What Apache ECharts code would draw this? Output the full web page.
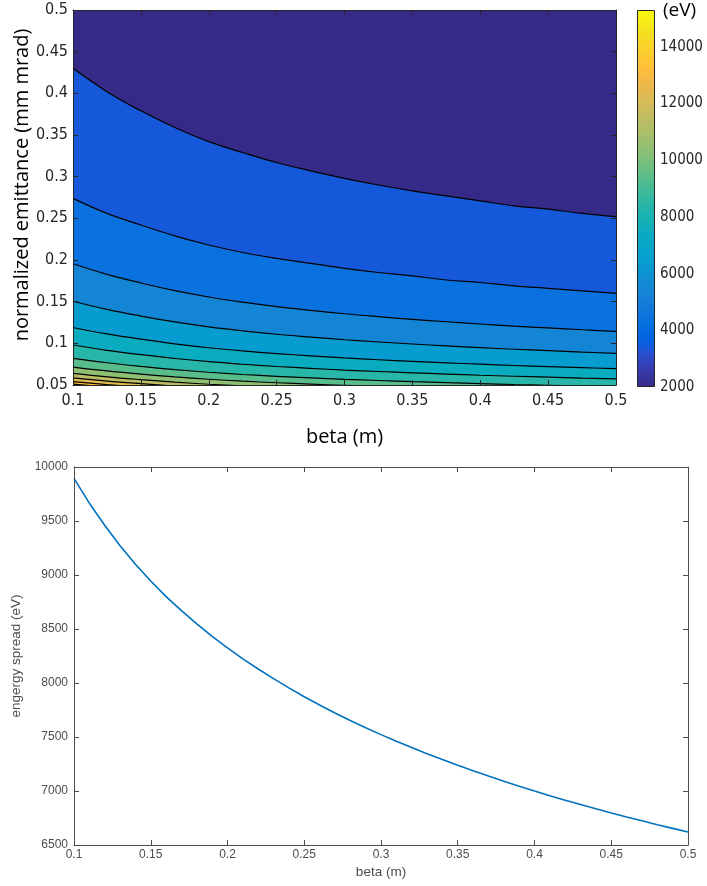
<!DOCTYPE html>
<html><head><meta charset="utf-8">
<script src="https://cdn.jsdelivr.net/npm/echarts@6/dist/echarts.min.js"></script>
<style>html,body{margin:0;padding:0;background:#fff}#c{width:707px;height:886px}</style>
</head><body><div id="c"></div>
<script>
// ---------- data: contour plot ----------
const betaGrid = [0.1, 0.125, 0.15, 0.175, 0.2, 0.225, 0.25, 0.275, 0.3, 0.325, 0.35, 0.375, 0.4, 0.425, 0.45, 0.475, 0.5];
const levelsEV = [3000, 4000, 5000, 6000, 7000, 8000, 9000, 10000, 11000, 12000, 13000, 14000];
const eps3000  = [0.430, 0.402, 0.379, 0.359, 0.342, 0.329, 0.317, 0.307, 0.298, 0.290, 0.283, 0.277, 0.271, 0.265, 0.261, 0.256, 0.252];
const eps4000  = [0.274, 0.256, 0.242, 0.229, 0.218, 0.209, 0.202, 0.196, 0.190, 0.185, 0.181, 0.176, 0.173, 0.169, 0.166, 0.163, 0.160];
const eps5000  = [0.1955, 0.1828, 0.1724, 0.1632, 0.1556, 0.1494, 0.1441, 0.1396, 0.1355, 0.1320, 0.1288, 0.1259, 0.1232, 0.1206, 0.1185, 0.1163, 0.1144];
const eps6000  = [0.1505, 0.1407, 0.1327, 0.1257, 0.1198, 0.1150, 0.1109, 0.1075, 0.1043, 0.1016, 0.0992, 0.0969, 0.0948, 0.0929, 0.0912, 0.0895, 0.0880];
const eps7000  = [0.119, 0.1113, 0.1050, 0.0994, 0.0947, 0.0909, 0.0877, 0.0850, 0.0825, 0.0803, 0.0784, 0.0766, 0.0750, 0.0734, 0.0721, 0.0708, 0.0696];
const eps8000  = [0.098, 0.0916, 0.0864, 0.0818, 0.0780, 0.0749, 0.0722, 0.0700, 0.0679, 0.0662, 0.0646, 0.0631, 0.0617, 0.0605, 0.0594, 0.0583, 0.0573];
const eps9000  = [0.082, 0.0767, 0.0723, 0.0685, 0.0653, 0.0626, 0.0604, 0.0585, 0.0568, 0.0554, 0.0540, 0.0528, 0.0517, 0.0506, 0.0497, 0.0488, 0.0480];
const eps10000 = [0.0715, 0.0669, 0.0631, 0.0597, 0.0569, 0.0546, 0.0527, 0.0511, 0.0496, 0.0483];
const eps11000 = [0.064, 0.0598, 0.0564, 0.0534, 0.0509, 0.0489, 0.0472];
const eps12000 = [0.0585, 0.0547, 0.0516, 0.0488, 0.0466];
const eps13000 = [0.054, 0.0505, 0.0476, 0.0451];
const eps14000 = [0.051, 0.0477, 0.045];
const contourLines = [eps3000, eps4000, eps5000, eps6000, eps7000, eps8000, eps9000, eps10000, eps11000, eps12000, eps13000, eps14000];
const colorbarMin = 2000, colorbarMax = 15300;

// ---------- data: energy spread line ----------
const betaLine = [0.10,0.11,0.12,0.13,0.14,0.15,0.16,0.17,0.18,0.19,0.20,0.21,0.22,0.23,0.24,0.25,0.26,0.27,0.28,0.29,0.30,
                  0.31,0.32,0.33,0.34,0.35,0.36,0.37,0.38,0.39,0.40,0.41,0.42,0.43,0.44,0.45,0.46,0.47,0.48,0.49,0.50];
const energySpread = [9895,9665,9460,9270,9100,8945,8800,8670,8548,8432,8325,8224,8130,8040,7955,7873,7796,7723,7653,7586,7522,
                      7461,7402,7345,7291,7238,7187,7138,7091,7045,7000,6957,6915,6875,6835,6797,6760,6724,6688,6654,6620];

// ---------- style: parula colormap ----------
const parula = [[0.2081,0.1663,0.5292],[0.2116,0.1898,0.5777],[0.2123,0.2138,0.6270],[0.2081,0.2386,0.6771],[0.1959,0.2645,0.7279],[0.1707,0.2919,0.7792],[0.1253,0.3242,0.8303],[0.0591,0.3598,0.8683],[0.0117,0.3875,0.8820],[0.0060,0.4086,0.8828],[0.0165,0.4266,0.8786],[0.0329,0.4430,0.8720],[0.0498,0.4586,0.8641],[0.0629,0.4737,0.8554],[0.0723,0.4887,0.8467],[0.0779,0.5040,0.8384],[0.0793,0.5200,0.8312],[0.0749,0.5375,0.8263],[0.0641,0.5570,0.8240],[0.0488,0.5772,0.8228],[0.0343,0.5966,0.8199],[0.0265,0.6137,0.8135],[0.0239,0.6287,0.8038],[0.0231,0.6418,0.7913],[0.0228,0.6535,0.7768],[0.0267,0.6642,0.7607],[0.0384,0.6743,0.7436],[0.0590,0.6838,0.7254],[0.0843,0.6928,0.7062],[0.1133,0.7015,0.6859],[0.1453,0.7098,0.6646],[0.1801,0.7177,0.6424],[0.2178,0.7250,0.6193],[0.2586,0.7317,0.5954],[0.3022,0.7376,0.5712],[0.3482,0.7424,0.5473],[0.3953,0.7459,0.5244],[0.4420,0.7481,0.5033],[0.4871,0.7491,0.4840],[0.5300,0.7491,0.4661],[0.5709,0.7485,0.4494],[0.6099,0.7473,0.4337],[0.6473,0.7456,0.4188],[0.6834,0.7435,0.4044],[0.7184,0.7411,0.3905],[0.7525,0.7384,0.3768],[0.7858,0.7356,0.3633],[0.8185,0.7327,0.3498],[0.8507,0.7299,0.3360],[0.8824,0.7274,0.3217],[0.9139,0.7258,0.3063],[0.9450,0.7261,0.2886],[0.9739,0.7314,0.2666],[0.9938,0.7455,0.2403],[0.9990,0.7653,0.2164],[0.9955,0.7861,0.1967],[0.9880,0.8066,0.1794],[0.9789,0.8271,0.1633],[0.9697,0.8481,0.1475],[0.9626,0.8705,0.1309],[0.9589,0.8949,0.1132],[0.9598,0.9218,0.0948],[0.9661,0.9514,0.0755],[0.9763,0.9831,0.0538]];
function rgb(c){return 'rgb('+c.map(v=>Math.round(v*255)).join(',')+')';}
function parulaAt(v){
  let f=(v-colorbarMin)/(colorbarMax-colorbarMin); f=Math.max(0,Math.min(1,f));
  const p=f*63, i=Math.min(62,Math.floor(p)), t=p-i;
  return rgb(parula[i].map((a,j)=>a+(parula[i+1][j]-a)*t));
}
const plain = v => String(Math.round(v));

const axisCol = '#262626';
const narrow = "'Liberation Sans Narrow','DejaVu Sans Condensed',sans-serif";
const tickCfg = {inside:true, length:5, lineStyle:{color:axisCol}};

const series = [];
contourLines.forEach((eps,k)=>{
  const hi = k+1<levelsEV.length ? levelsEV[k+1] : colorbarMax;
  series.push({
    type:'line', name:levelsEV[k]+' eV', xAxisIndex:0, yAxisIndex:0,
    data: eps.map((e,i)=>[betaGrid[i], e]),
    smooth:0.4, symbol:'none', silent:true, clip:true,
    lineStyle:{color:'#000', width:1.2},
    areaStyle:{color:parulaAt(levelsEV[k]+0.4*(hi-levelsEV[k])), opacity:1, origin:'start'}
  });
});
// colorbar
series.push({type:'bar', xAxisIndex:2, yAxisIndex:2, stack:'cb', data:[colorbarMin], itemStyle:{color:'transparent'}, barWidth:'100%', silent:true});
series.push({type:'bar', xAxisIndex:2, yAxisIndex:2, stack:'cb', data:[colorbarMax-colorbarMin], barWidth:'100%', silent:true,
  itemStyle:{borderColor:axisCol, borderWidth:1,
    color:{type:'linear', x:0, y:1, x2:0, y2:0, colorStops: parula.map((c,i)=>({offset:i/63, color:rgb(c)}))}}});
// energy spread line
series.push({type:'line', xAxisIndex:3, yAxisIndex:3, data: betaLine.map((b,i)=>[b, energySpread[i]]),
  symbol:'none', lineStyle:{color:'#0072BD', width:1.6}, silent:true});

const botCol = '#4d4d4d';
const botTick = {inside:true, length:5, lineStyle:{color:botCol}};
const option = {
  animation:false,
  grid:[
    {left:73, top:10, width:543, height:375, show:true, backgroundColor:parulaAt(colorbarMin), borderWidth:0},
    {left:637, top:10, width:18, height:377},
    {left:74, top:467, width:614, height:378}
  ],
  xAxis:[
    {gridIndex:0, type:'value', min:0.1, max:0.5, interval:0.05, position:'bottom', z:10,
      axisLine:{lineStyle:{color:axisCol}}, axisTick:tickCfg, splitLine:{show:false},
      axisLabel:{color:axisCol, fontSize:16, fontFamily:narrow, margin:8},
      name:'beta (m)', nameLocation:'middle', nameGap:42, nameTextStyle:{color:'#000', fontSize:20, fontFamily:'Open Sans'}},
    {gridIndex:0, type:'value', min:0.1, max:0.5, interval:0.05, position:'top', z:10,
      axisLine:{lineStyle:{color:axisCol}}, axisTick:tickCfg, axisLabel:{show:false}, splitLine:{show:false}},
    {gridIndex:1, type:'category', data:['cb'], show:false},
    {gridIndex:2, type:'value', min:0.1, max:0.5, interval:0.05, position:'bottom', z:10,
      axisLine:{lineStyle:{color:botCol}}, axisTick:botTick, splitLine:{show:false},
      axisLabel:{color:botCol, fontSize:12, fontFamily:'Liberation Sans', margin:4},
      name:'beta (m)', nameLocation:'middle', nameGap:20, nameTextStyle:{color:botCol, fontSize:13.5, fontFamily:'Liberation Sans'}},
    {gridIndex:2, type:'value', min:0.1, max:0.5, interval:0.05, position:'top', z:10,
      axisLine:{lineStyle:{color:botCol}}, axisTick:botTick, axisLabel:{show:false}, splitLine:{show:false}}
  ],
  yAxis:[
    {gridIndex:0, type:'value', min:0.05, max:0.5, interval:0.05, position:'left', z:10,
      axisLine:{lineStyle:{color:axisCol}}, axisTick:tickCfg, splitLine:{show:false},
      axisLabel:{color:axisCol, fontSize:16, fontFamily:narrow, margin:5}},
    {gridIndex:0, type:'value', min:0.05, max:0.5, interval:0.05, position:'right', z:10,
      axisLine:{lineStyle:{color:axisCol}}, axisTick:tickCfg, axisLabel:{show:false}, splitLine:{show:false}},
    {gridIndex:1, type:'value', min:colorbarMin, max:colorbarMax, interval:2000, position:'right', z:10,
      axisLine:{show:false}, axisTick:{inside:true, length:3, lineStyle:{color:axisCol}}, splitLine:{show:false},
      axisLabel:{color:axisCol, fontSize:15, fontFamily:narrow, margin:5, showMaxLabel:false, formatter:plain}},
    {gridIndex:2, type:'value', min:6500, max:10000, interval:500, position:'left', z:10,
      axisLine:{lineStyle:{color:botCol}}, axisTick:botTick, splitLine:{show:false},
      axisLabel:{color:botCol, fontSize:12, fontFamily:'Liberation Sans', margin:6, formatter:plain},
      name:'engergy spread (eV)', nameLocation:'middle', nameGap:44, nameTextStyle:{color:botCol, fontSize:13.5, fontFamily:'Liberation Sans'}},
    {gridIndex:2, type:'value', min:6500, max:10000, interval:500, position:'right', z:10,
      axisLine:{lineStyle:{color:botCol}}, axisTick:botTick, axisLabel:{show:false}, splitLine:{show:false}}
  ],
  graphic:[
    {type:'text', left:663, top:1, style:{text:'(eV)', fontSize:19, fontFamily:'Open Sans', fill:'#000'}},
    {type:'text', x:22, y:185, rotation:Math.PI/2,
      style:{text:'normalized emittance (mm mrad)', fontSize:20, fontFamily:'Open Sans', fill:'#000', align:'center', verticalAlign:'middle'}}
  ],
  series: series
};
const chart = echarts.init(document.getElementById('c'), null, {renderer:'canvas'});
chart.setOption(option);
</script></body></html>
